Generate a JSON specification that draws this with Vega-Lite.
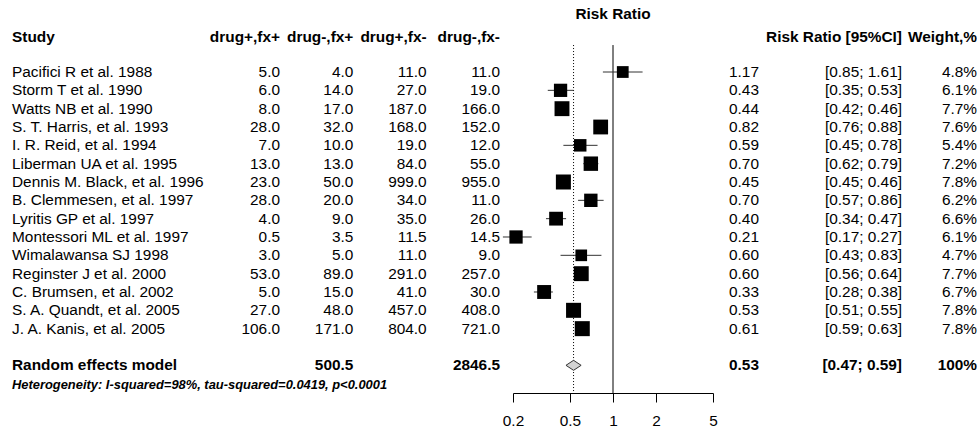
{
  "$schema": "https://vega.github.io/schema/vega-lite/v6.json",
  "width": 977,
  "height": 393,
  "padding": 0,
  "autosize": {"type": "pad"},
  "config": {
    "view": {"stroke": null},
    "text": {"font": "Liberation Sans", "fontSize": 15.4, "color": "#000", "baseline": "middle"},
    "axis": {"labelFont": "Liberation Sans", "labelFontSize": 15.4, "labelColor": "#000", "domainColor": "#000", "tickColor": "#000", "tickSize": 9, "labelPadding": 11, "grid": false, "domainWidth": 1, "tickWidth": 1}
  },
  "datasets": {
    "studies": [
      {"study": "Pacifici R et al. 1988", "a": 5.0, "b": 4.0, "c": 11.0, "d": 11.0, "rr": 1.17, "lo": 0.85, "hi": 1.61, "w": 4.8, "row": 1},
      {"study": "Storm T et al. 1990", "a": 6.0, "b": 14.0, "c": 27.0, "d": 19.0, "rr": 0.43, "lo": 0.35, "hi": 0.53, "w": 6.1, "row": 2},
      {"study": "Watts NB et al. 1990", "a": 8.0, "b": 17.0, "c": 187.0, "d": 166.0, "rr": 0.44, "lo": 0.42, "hi": 0.46, "w": 7.7, "row": 3},
      {"study": "S. T. Harris, et al. 1993", "a": 28.0, "b": 32.0, "c": 168.0, "d": 152.0, "rr": 0.82, "lo": 0.76, "hi": 0.88, "w": 7.6, "row": 4},
      {"study": "I. R. Reid, et al. 1994", "a": 7.0, "b": 10.0, "c": 19.0, "d": 12.0, "rr": 0.59, "lo": 0.45, "hi": 0.78, "w": 5.4, "row": 5},
      {"study": "Liberman UA et al. 1995", "a": 13.0, "b": 13.0, "c": 84.0, "d": 55.0, "rr": 0.70, "lo": 0.62, "hi": 0.79, "w": 7.2, "row": 6},
      {"study": "Dennis M. Black, et al. 1996", "a": 23.0, "b": 50.0, "c": 999.0, "d": 955.0, "rr": 0.45, "lo": 0.45, "hi": 0.46, "w": 7.8, "row": 7},
      {"study": "B. Clemmesen, et al. 1997", "a": 28.0, "b": 20.0, "c": 34.0, "d": 11.0, "rr": 0.70, "lo": 0.57, "hi": 0.86, "w": 6.2, "row": 8},
      {"study": "Lyritis GP et al. 1997", "a": 4.0, "b": 9.0, "c": 35.0, "d": 26.0, "rr": 0.40, "lo": 0.34, "hi": 0.47, "w": 6.6, "row": 9},
      {"study": "Montessori ML et al. 1997", "a": 0.5, "b": 3.5, "c": 11.5, "d": 14.5, "rr": 0.21, "lo": 0.17, "hi": 0.27, "w": 6.1, "row": 10},
      {"study": "Wimalawansa SJ 1998", "a": 3.0, "b": 5.0, "c": 11.0, "d": 9.0, "rr": 0.60, "lo": 0.43, "hi": 0.83, "w": 4.7, "row": 11},
      {"study": "Reginster J et al. 2000", "a": 53.0, "b": 89.0, "c": 291.0, "d": 257.0, "rr": 0.60, "lo": 0.56, "hi": 0.64, "w": 7.7, "row": 12},
      {"study": "C. Brumsen, et al. 2002", "a": 5.0, "b": 15.0, "c": 41.0, "d": 30.0, "rr": 0.33, "lo": 0.28, "hi": 0.38, "w": 6.7, "row": 13},
      {"study": "S. A. Quandt, et al. 2005", "a": 27.0, "b": 48.0, "c": 457.0, "d": 408.0, "rr": 0.53, "lo": 0.51, "hi": 0.55, "w": 7.8, "row": 14},
      {"study": "J. A. Kanis, et al. 2005", "a": 106.0, "b": 171.0, "c": 804.0, "d": 721.0, "rr": 0.61, "lo": 0.59, "hi": 0.63, "w": 7.8, "row": 15}
    ],
    "model": [
      {"study": "Random effects model", "b": 500.5, "d": 2846.5, "rr": 0.53, "lo": 0.47, "hi": 0.59, "w": 100, "row": 17}
    ],
    "countHeaders": [
      {"col": "a", "label": "drug+,fx+"},
      {"col": "b", "label": "drug-,fx+"},
      {"col": "c", "label": "drug+,fx-"},
      {"col": "d", "label": "drug-,fx-"}
    ]
  },
  "resolve": {"scale": {"x": "independent"}, "axis": {"x": "independent"}},
  "layer": [
    {
      "data": {"values": [{"label": "Risk Ratio"}]},
      "mark": {"type": "text", "fontWeight": "bold", "align": "center"},
      "encoding": {
        "x": {"datum": 1, "type": "quantitative", "scale": {"type": "log", "domain": [0.2, 5], "range": [513, 713], "nice": false}, "axis": null},
        "y": {"datum": -2.15, "type": "quantitative", "scale": {"domain": [-2.928, 18.51], "reverse": true, "nice": false, "zero": false}, "axis": null},
        "text": {"field": "label"}
      }
    },
    {
      "data": {"values": [{"label": "Study"}]},
      "mark": {"type": "text", "fontWeight": "bold", "align": "left"},
      "encoding": {
        "x": {"datum": "study", "type": "nominal", "scale": {"type": "point", "domain": ["study"], "range": [12, 12]}, "axis": null},
        "y": {"datum": -0.9, "type": "quantitative", "scale": {"domain": [-2.928, 18.51], "reverse": true, "nice": false, "zero": false}, "axis": null},
        "text": {"field": "label"}
      }
    },
    {
      "data": {"name": "countHeaders"},
      "mark": {"type": "text", "fontWeight": "bold", "align": "right"},
      "encoding": {
        "x": {"field": "col", "type": "nominal", "scale": {"type": "point", "domain": ["a", "b", "c", "d"], "range": [280, 500], "padding": 0}, "axis": null},
        "y": {"datum": -0.9, "type": "quantitative", "scale": {"domain": [-2.928, 18.51], "reverse": true, "nice": false, "zero": false}, "axis": null},
        "text": {"field": "label"}
      }
    },
    {
      "data": {"values": [{"label": "Risk Ratio [95%CI]"}]},
      "mark": {"type": "text", "fontWeight": "bold", "align": "right"},
      "encoding": {
        "x": {"datum": "ci", "type": "nominal", "scale": {"type": "point", "domain": ["ci"], "range": [902, 902]}, "axis": null},
        "y": {"datum": -0.9, "type": "quantitative", "scale": {"domain": [-2.928, 18.51], "reverse": true, "nice": false, "zero": false}, "axis": null},
        "text": {"field": "label"}
      }
    },
    {
      "data": {"values": [{"label": "Weight,%"}]},
      "mark": {"type": "text", "fontWeight": "bold", "align": "right"},
      "encoding": {
        "x": {"datum": "w", "type": "nominal", "scale": {"type": "point", "domain": ["w"], "range": [977, 977]}, "axis": null},
        "y": {"datum": -0.9, "type": "quantitative", "scale": {"domain": [-2.928, 18.51], "reverse": true, "nice": false, "zero": false}, "axis": null},
        "text": {"field": "label"}
      }
    },
    {
      "data": {"name": "studies"},
      "mark": {"type": "text", "align": "left"},
      "encoding": {
        "x": {"datum": "study", "type": "nominal", "scale": {"type": "point", "domain": ["study"], "range": [12, 12]}, "axis": null},
        "y": {"field": "row", "type": "quantitative", "scale": {"domain": [-2.928, 18.51], "reverse": true, "nice": false, "zero": false}, "axis": null},
        "text": {"field": "study"}
      }
    },
    {
      "data": {"name": "studies"},
      "transform": [{"fold": ["a", "b", "c", "d"], "as": ["col", "val"]}],
      "mark": {"type": "text", "align": "right"},
      "encoding": {
        "x": {"field": "col", "type": "nominal", "scale": {"type": "point", "domain": ["a", "b", "c", "d"], "range": [280, 500], "padding": 0}, "axis": null},
        "y": {"field": "row", "type": "quantitative", "scale": {"domain": [-2.928, 18.51], "reverse": true, "nice": false, "zero": false}, "axis": null},
        "text": {"field": "val", "type": "quantitative", "format": ".1f"}
      }
    },
    {
      "data": {"name": "studies"},
      "mark": {"type": "text", "align": "left"},
      "encoding": {
        "x": {"datum": "rr", "type": "nominal", "scale": {"type": "point", "domain": ["rr"], "range": [729, 729]}, "axis": null},
        "y": {"field": "row", "type": "quantitative", "scale": {"domain": [-2.928, 18.51], "reverse": true, "nice": false, "zero": false}, "axis": null},
        "text": {"field": "rr", "type": "quantitative", "format": ".2f"}
      }
    },
    {
      "data": {"name": "studies"},
      "transform": [{"calculate": "'[' + format(datum.lo, '.2f') + '; ' + format(datum.hi, '.2f') + ']'", "as": "ci"}],
      "mark": {"type": "text", "align": "right"},
      "encoding": {
        "x": {"datum": "ci", "type": "nominal", "scale": {"type": "point", "domain": ["ci"], "range": [902, 902]}, "axis": null},
        "y": {"field": "row", "type": "quantitative", "scale": {"domain": [-2.928, 18.51], "reverse": true, "nice": false, "zero": false}, "axis": null},
        "text": {"field": "ci"}
      }
    },
    {
      "data": {"name": "studies"},
      "transform": [{"calculate": "format(datum.w, '.1f') + '%'", "as": "wl"}],
      "mark": {"type": "text", "align": "right"},
      "encoding": {
        "x": {"datum": "w", "type": "nominal", "scale": {"type": "point", "domain": ["w"], "range": [977, 977]}, "axis": null},
        "y": {"field": "row", "type": "quantitative", "scale": {"domain": [-2.928, 18.51], "reverse": true, "nice": false, "zero": false}, "axis": null},
        "text": {"field": "wl"}
      }
    },
    {
      "data": {"name": "model"},
      "mark": {"type": "text", "align": "left", "fontWeight": "bold"},
      "encoding": {
        "x": {"datum": "study", "type": "nominal", "scale": {"type": "point", "domain": ["study"], "range": [12, 12]}, "axis": null},
        "y": {"field": "row", "type": "quantitative", "scale": {"domain": [-2.928, 18.51], "reverse": true, "nice": false, "zero": false}, "axis": null},
        "text": {"field": "study"}
      }
    },
    {
      "data": {"name": "model"},
      "transform": [{"fold": ["b", "d"], "as": ["col", "val"]}],
      "mark": {"type": "text", "align": "right", "fontWeight": "bold"},
      "encoding": {
        "x": {"field": "col", "type": "nominal", "scale": {"type": "point", "domain": ["a", "b", "c", "d"], "range": [280, 500], "padding": 0}, "axis": null},
        "y": {"field": "row", "type": "quantitative", "scale": {"domain": [-2.928, 18.51], "reverse": true, "nice": false, "zero": false}, "axis": null},
        "text": {"field": "val", "type": "quantitative", "format": ".1f"}
      }
    },
    {
      "data": {"name": "model"},
      "mark": {"type": "text", "align": "left", "fontWeight": "bold"},
      "encoding": {
        "x": {"datum": "rr", "type": "nominal", "scale": {"type": "point", "domain": ["rr"], "range": [729, 729]}, "axis": null},
        "y": {"field": "row", "type": "quantitative", "scale": {"domain": [-2.928, 18.51], "reverse": true, "nice": false, "zero": false}, "axis": null},
        "text": {"field": "rr", "type": "quantitative", "format": ".2f"}
      }
    },
    {
      "data": {"name": "model"},
      "transform": [{"calculate": "'[' + format(datum.lo, '.2f') + '; ' + format(datum.hi, '.2f') + ']'", "as": "ci"}],
      "mark": {"type": "text", "align": "right", "fontWeight": "bold"},
      "encoding": {
        "x": {"datum": "ci", "type": "nominal", "scale": {"type": "point", "domain": ["ci"], "range": [902, 902]}, "axis": null},
        "y": {"field": "row", "type": "quantitative", "scale": {"domain": [-2.928, 18.51], "reverse": true, "nice": false, "zero": false}, "axis": null},
        "text": {"field": "ci"}
      }
    },
    {
      "data": {"name": "model"},
      "transform": [{"calculate": "format(datum.w, '.0f') + '%'", "as": "wl"}],
      "mark": {"type": "text", "align": "right", "fontWeight": "bold"},
      "encoding": {
        "x": {"datum": "w", "type": "nominal", "scale": {"type": "point", "domain": ["w"], "range": [977, 977]}, "axis": null},
        "y": {"field": "row", "type": "quantitative", "scale": {"domain": [-2.928, 18.51], "reverse": true, "nice": false, "zero": false}, "axis": null},
        "text": {"field": "wl"}
      }
    },
    {
      "data": {"values": [{"label": "Heterogeneity: I-squared=98%, tau-squared=0.0419, p<0.0001"}]},
      "mark": {"type": "text", "align": "left", "fontWeight": "bold", "fontStyle": "italic", "fontSize": 12.9},
      "encoding": {
        "x": {"datum": "study", "type": "nominal", "scale": {"type": "point", "domain": ["study"], "range": [12, 12]}, "axis": null},
        "y": {"datum": 18.05, "type": "quantitative", "scale": {"domain": [-2.928, 18.51], "reverse": true, "nice": false, "zero": false}, "axis": null},
        "text": {"field": "label"}
      }
    },
    {
      "data": {"values": [{"ref": 1}]},
      "mark": {"type": "rule", "color": "#000", "strokeWidth": 1},
      "encoding": {
        "x": {"field": "ref", "type": "quantitative", "scale": {"type": "log", "domain": [0.2, 5], "range": [513, 713], "nice": false}, "axis": null},
        "y": {"datum": -0.47, "type": "quantitative", "scale": {"domain": [-2.928, 18.51], "reverse": true, "nice": false, "zero": false}, "axis": null},
        "y2": {"datum": 18.51}
      }
    },
    {
      "data": {"name": "model"},
      "mark": {"type": "rule", "color": "#000", "strokeWidth": 1, "strokeDash": [1, 2]},
      "encoding": {
        "x": {"field": "rr", "type": "quantitative", "scale": {"type": "log", "domain": [0.2, 5], "range": [513, 713], "nice": false}, "axis": null},
        "y": {"datum": -0.47, "type": "quantitative", "scale": {"domain": [-2.928, 18.51], "reverse": true, "nice": false, "zero": false}, "axis": null},
        "y2": {"datum": 18.51}
      }
    },
    {
      "data": {"name": "studies"},
      "mark": {"type": "rule", "color": "#333", "strokeWidth": 1},
      "encoding": {
        "x": {"field": "lo", "type": "quantitative", "scale": {"type": "log", "domain": [0.2, 5], "range": [513, 713], "nice": false}, "axis": null},
        "x2": {"field": "hi"},
        "y": {"field": "row", "type": "quantitative", "scale": {"domain": [-2.928, 18.51], "reverse": true, "nice": false, "zero": false}, "axis": null}
      }
    },
    {
      "data": {"name": "studies"},
      "mark": {"type": "point", "shape": "square", "filled": true, "color": "#000", "opacity": 1, "strokeWidth": 0},
      "encoding": {
        "x": {"field": "rr", "type": "quantitative", "scale": {"type": "log", "domain": [0.2, 5], "range": [513, 713], "nice": false},
          "axis": {"values": [0.2, 0.5, 1, 2, 5], "format": "~g", "labelFlush": false, "labelOverlap": false, "title": null, "orient": "bottom"}},
        "y": {"field": "row", "type": "quantitative", "scale": {"domain": [-2.928, 18.51], "reverse": true, "nice": false, "zero": false}, "axis": null},
        "size": {"field": "w", "type": "quantitative", "scale": {"type": "linear", "domain": [0, 7.8], "range": [0, 225], "zero": true}, "legend": null}
      }
    },
    {
      "data": {"name": "model"},
      "mark": {"type": "point", "shape": "M-1,0L0,-0.66L1,0L0,0.66Z", "fill": "#d3d3d3", "stroke": "#333", "strokeWidth": 1, "opacity": 1, "size": 230},
      "encoding": {
        "x": {"field": "rr", "type": "quantitative", "scale": {"type": "log", "domain": [0.2, 5], "range": [513, 713], "nice": false}, "axis": null},
        "y": {"field": "row", "type": "quantitative", "scale": {"domain": [-2.928, 18.51], "reverse": true, "nice": false, "zero": false}, "axis": null}
      }
    }
  ]
}
